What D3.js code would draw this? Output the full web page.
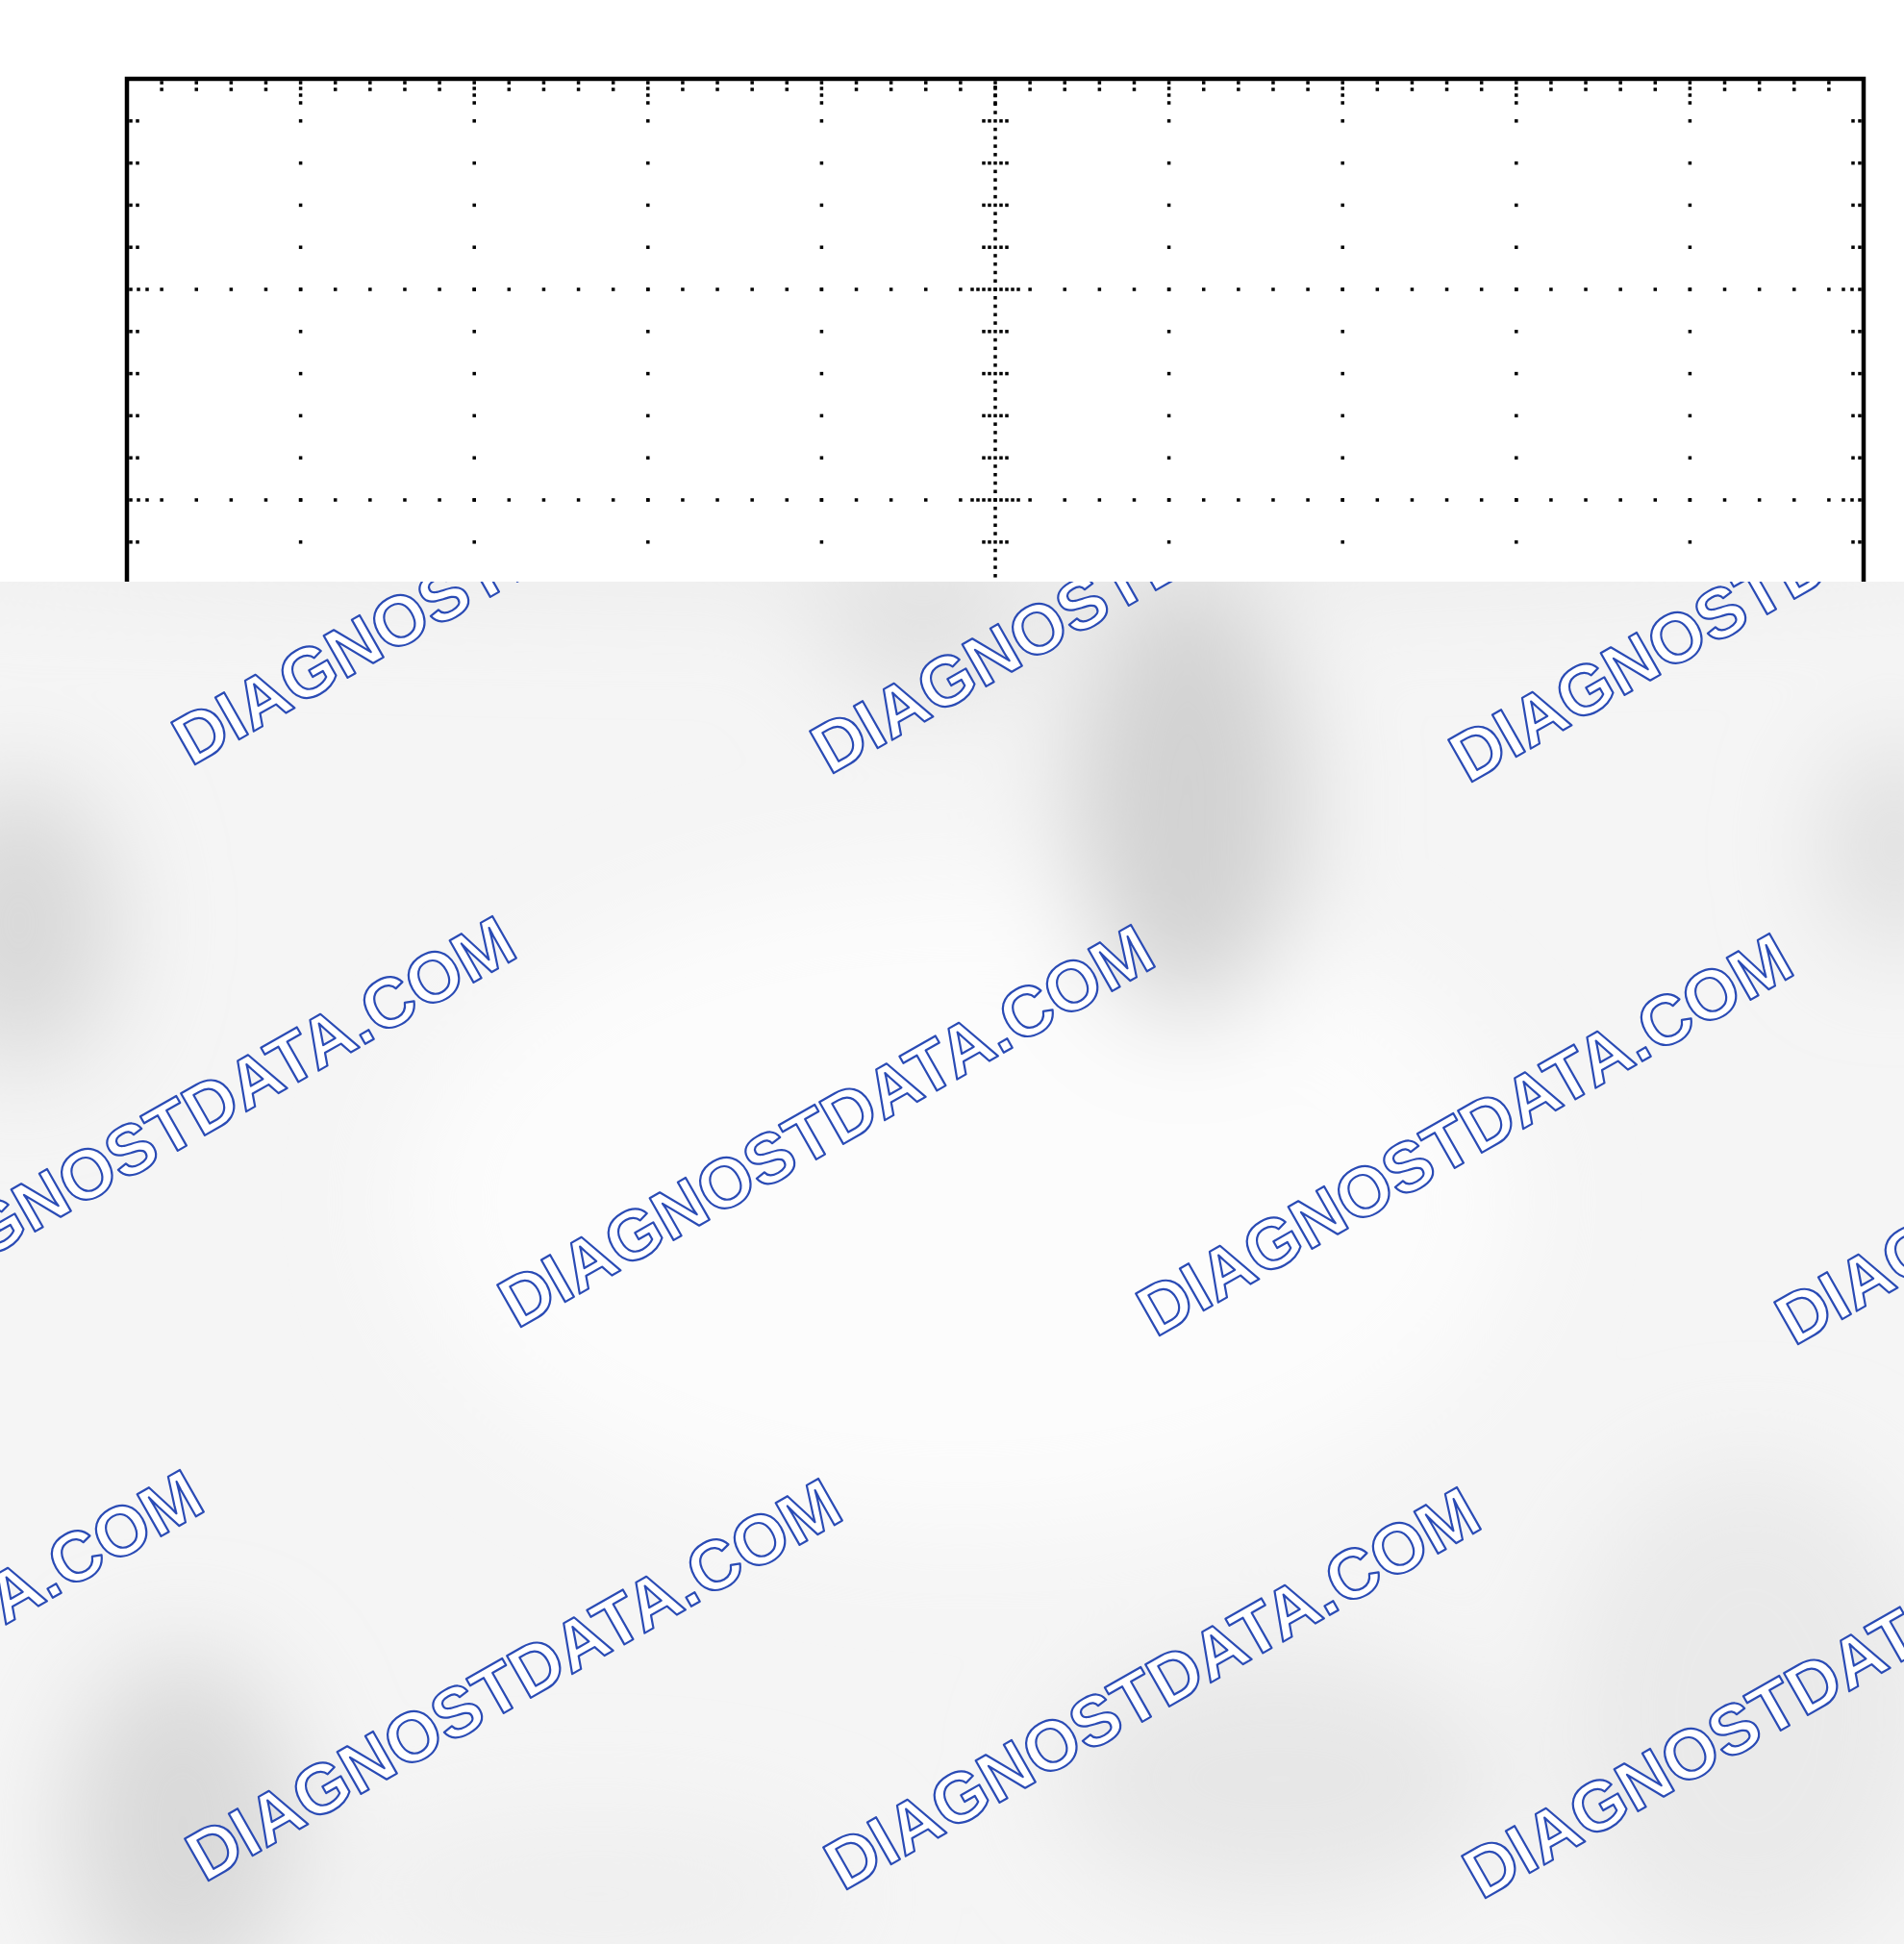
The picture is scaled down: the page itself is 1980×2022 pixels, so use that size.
<!DOCTYPE html>
<html>
<head>
<meta charset="utf-8">
<script src="https://cdn.jsdelivr.net/npm/d3@7/dist/d3.min.js"></script>
<style>
  html, body { margin: 0; padding: 0; background: #fff; }
  svg { display: block; }
</style>
</head>
<body>
<svg id="chart" width="1980" height="2022"></svg>
<script>
// graticule: 10 x 8 divisions, 5 minor steps, 25 steps on the centre axes
var xDivs = d3.range(0, 11);
var yDivs = d3.range(0, 9);
var minorSteps = 5;
var axisSteps = 25;
var centerDiv = [5, 4];

// watermark tiling
var wmText = "DIAGNOSTDATA.COM";
var wmRows = [0, 1, 2];
var wmCols = [-2, -1, 0, 1, 2];

// soft grey patches on the overlay: [cx, cy, rx, ry, colour]
var patches = [
  [990, 570, 1200, 50, "#ebebeb"],
  [1000, 1250, 580, 340, "#fcfcfc"],
  [1235, 830, 120, 230, "#d2d2d2"],
  [960, 650, 110, 70, "#e0e0e0"],
  [20, 960, 100, 150, "#d8d8d8"],
  [1970, 880, 70, 110, "#dedede"],
  [190, 1900, 120, 180, "#d9d9d9"],
  [1330, 1850, 230, 130, "#e7e7e7"],
  [1820, 1780, 200, 260, "#eaeaea"],
  [620, 1970, 260, 80, "#efefef"]
];

var svg = d3.select("#chart"),
    width = +svg.attr("width"),
    height = +svg.attr("height"),
    overlayTop = 605;

var x = d3.scaleLinear().domain([0, 10]).range([132, 1938]);
var y = d3.scaleLinear().domain([0, 8]).range([82, 1834]);

var dots = [];
function dot(px, py) { dots.push([px, py]); }

var xMax = d3.max(xDivs), yMax = d3.max(yDivs);

// dotted major verticals
xDivs.filter(function(d) { return d > 0 && d < xMax && d !== centerDiv[0]; }).forEach(function(d) {
  d3.range(1, yMax * minorSteps).forEach(function(k) { dot(x(d), y(k / minorSteps)); });
});
// dotted major horizontals
yDivs.filter(function(d) { return d > 0 && d < yMax && d !== centerDiv[1]; }).forEach(function(d) {
  d3.range(1, xMax * minorSteps).forEach(function(k) { dot(x(k / minorSteps), y(d)); });
});
// centre axes, fine dotted
d3.range(1, yMax * axisSteps).forEach(function(k) { dot(x(centerDiv[0]), y(k / axisSteps)); });
d3.range(1, xMax * axisSteps).forEach(function(k) { dot(x(k / axisSteps), y(centerDiv[1])); });

// cross ticks on the centre axes
d3.range(1, yMax * minorSteps).forEach(function(k) {
  var major = k % minorSteps === 0;
  var offs = major ? [-24, -18, -12, -6, 6, 12, 18, 24] : [-12, -6, 6, 12];
  offs.forEach(function(o) { dot(x(centerDiv[0]) + o, y(k / minorSteps)); });
});
d3.range(1, xMax * minorSteps).forEach(function(k) {
  var major = k % minorSteps === 0;
  var offs = major ? [-24, -18, -12, -6, 6, 12, 18, 24] : [-12, -6, 6, 12];
  offs.forEach(function(o) { dot(x(k / minorSteps), y(centerDiv[1]) + o); });
});

// edge ticks
d3.range(1, yMax * minorSteps).forEach(function(k) {
  var offs = k % minorSteps === 0 ? [4, 12, 21] : [4, 11];
  offs.forEach(function(o) {
    dot(x(0) + o, y(k / minorSteps));
    dot(x(xMax) - o, y(k / minorSteps));
  });
});
d3.range(1, xMax * minorSteps).forEach(function(k) {
  var offs = k % minorSteps === 0 ? [4, 10, 17, 25] : [4, 11];
  offs.forEach(function(o) {
    dot(x(k / minorSteps), y(0) + o);
    dot(x(k / minorSteps), y(yMax) - o);
  });
});

var grid = svg.append("g").attr("class", "graticule");

grid.selectAll("rect.dot")
  .data(dots).enter()
  .append("rect")
  .attr("class", "dot")
  .attr("x", function(d) { return d[0] - 1.75; })
  .attr("y", function(d) { return d[1] - 1.75; })
  .attr("width", 3.5)
  .attr("height", 3.5)
  .attr("fill", "#000");

grid.append("rect")
  .attr("x", x(0))
  .attr("y", y(0))
  .attr("width", x(xMax) - x(0))
  .attr("height", y(yMax) - y(0))
  .attr("fill", "none")
  .attr("stroke", "#000")
  .attr("stroke-width", 4.5);

// overlay with watermark
var defs = svg.append("defs");
defs.append("clipPath").attr("id", "overlayClip")
  .append("rect")
  .attr("x", 0).attr("y", overlayTop)
  .attr("width", width).attr("height", height - overlayTop);

var blur = defs.append("filter").attr("id", "soft")
  .attr("x", "-100%").attr("y", "-100%").attr("width", "300%").attr("height", "300%");
blur.append("feGaussianBlur").attr("stdDeviation", 55);

var overlay = svg.append("g").attr("clip-path", "url(#overlayClip)");

overlay.append("rect")
  .attr("x", 0).attr("y", overlayTop)
  .attr("width", width).attr("height", height - overlayTop)
  .attr("fill", "#f5f5f5");

overlay.append("g").attr("filter", "url(#soft)")
  .selectAll("ellipse")
  .data(patches).enter()
  .append("ellipse")
  .attr("cx", function(d) { return d[0]; })
  .attr("cy", function(d) { return d[1]; })
  .attr("rx", function(d) { return d[2]; })
  .attr("ry", function(d) { return d[3]; })
  .attr("fill", function(d) { return d[4]; });

var origin = [203, 795], colStep = [664, 9], rowStep = [339, 585];
var marks = [];
wmRows.forEach(function(r) {
  wmCols.forEach(function(c) {
    marks.push([origin[0] + c * colStep[0] + r * rowStep[0], origin[1] + c * colStep[1] + r * rowStep[1]]);
  });
});

overlay.selectAll("text.wm")
  .data(marks).enter()
  .append("text")
  .attr("class", "wm")
  .attr("transform", function(d) { return "translate(" + d[0] + "," + d[1] + ") rotate(-29.6)"; })
  .attr("x", -5)
  .attr("y", 0)
  .attr("font-family", "'Liberation Sans', Arial, sans-serif")
  .attr("font-weight", "bold")
  .attr("font-size", 73)
  .attr("fill", "#ffffff")
  .attr("stroke", "#2a4bb5")
  .attr("stroke-width", 2.2)
  .attr("stroke-linejoin", "round")
  .text(wmText);
</script>
</body>
</html>
